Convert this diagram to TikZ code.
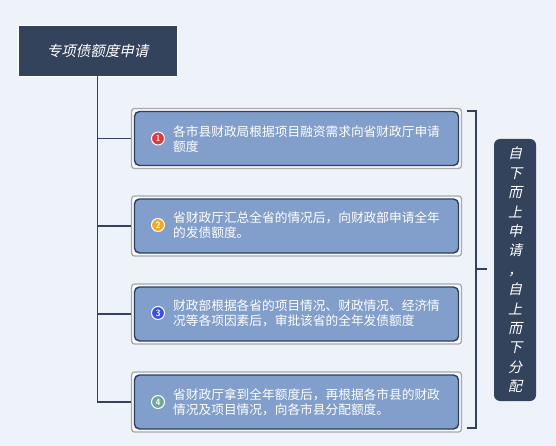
\documentclass[tikz,border=0pt]{standalone}
\usepackage{fontspec}
\setmainfont{Noto Sans CJK SC}
\newfontfamily\cjkit{Noto Sans CJK SC}[FakeSlant=0.22]
\definecolor{bgc}{HTML}{EEF3FA}
\definecolor{navy}{HTML}{33435C}
\definecolor{boxfill}{HTML}{819FCA}
\definecolor{boxline}{HTML}{2E3F5C}
\definecolor{framec}{HTML}{A9A9A9}
\definecolor{bred}{HTML}{E8343A}
\definecolor{borange}{HTML}{F5A81C}
\definecolor{bblue}{HTML}{3A4EF0}
\definecolor{bteal}{HTML}{6FA89A}
\begin{document}
\begin{tikzpicture}[x=1pt,y=-1pt,
  titlebox/.style={fill=navy,draw=white,line width=0.4pt,minimum width=159pt,minimum height=51pt,inner sep=0pt,text=white,font=\cjkit\fontsize{14.5}{16}\selectfont},
  framebox/.style={draw=framec,line width=1.3pt,fill=white!60!bgc,rounded corners=3pt,minimum width=330pt,minimum height=60pt,inner sep=0pt},
  innerbox/.style={draw=boxline,line width=1.4pt,fill=boxfill,rounded corners=5pt,minimum width=324pt,minimum height=54pt,inner sep=0pt},
  badge/.style={circle,draw=white,line width=1pt,minimum size=13pt,inner sep=0pt,text=white,font=\sffamily\bfseries\fontsize{9}{9}\selectfont},
  itemtext/.style={anchor=west,align=left,inner sep=0pt,text=white,font=\fontsize{12.7}{15.2}\selectfont},
  conn/.style={draw=navy,line width=1.4pt},
  sidebox/.style={fill=navy,rounded corners=6pt,minimum width=42pt,minimum height=262pt,inner sep=0pt,text=white,align=center,font=\cjkit\fontsize{14}{19.4}\selectfont}
]
\fill[bgc] (0,0) rectangle (556,446);
\useasboundingbox (0,0) rectangle (556,446);

\node[titlebox] (title) at (97.5,50.5) {专项债额度申请};

\node[framebox] (o1) at (296.5,138.5) {};
\node[innerbox] (b1) at (296.5,138.5) {};
\node[badge,fill=bred] (n1) at (158,138.5) {1};
\node[itemtext] (t1) at (173,139) {各市县财政局根据项目融资需求向省财政厅申请\\额度};

\node[framebox] (o2) at (296.5,226) {};
\node[innerbox] (b2) at (296.5,226) {};
\node[badge,fill=borange] (n2) at (158,225) {2};
\node[itemtext] (t2) at (173,225.5) {省财政厅汇总全省的情况后，向财政部申请全年\\的发债额度。};

\node[framebox] (o3) at (296.5,314) {};
\node[innerbox] (b3) at (296.5,314) {};
\node[badge,fill=bblue] (n3) at (158,313) {3};
\node[itemtext] (t3) at (173,313.5) {财政部根据各省的项目情况、财政情况、经济情\\况等各项因素后，审批该省的全年发债额度};

\node[framebox] (o4) at (296.5,402) {};
\node[innerbox] (b4) at (296.5,402) {};
\node[badge,fill=bteal] (n4) at (158,402) {4};
\node[itemtext] (t4) at (173,402.5) {省财政厅拿到全年额度后，再根据各市县的财政\\情况及项目情况，向各市县分配额度。};

\draw[conn] (title.south) |- (o4.west);
\draw[conn] (title.south |- o1.west) -- (o1.west);
\draw[conn] (title.south |- o2.west) -- (o2.west);
\draw[conn] (title.south |- o3.west) -- (o3.west);

\node[sidebox] (side) at (515,270) {自\\下\\而\\上\\申\\请\\，\\自\\上\\而\\下\\分\\配};

\coordinate (bt) at (476,111);
\coordinate (bb) at (476,428);
\coordinate (bm) at (476,269);
\draw[conn] (467,111) -- (bt) -- (bb) -- (467,428);
\draw[conn] (bm) -- (487,269);
\end{tikzpicture}
\end{document}
